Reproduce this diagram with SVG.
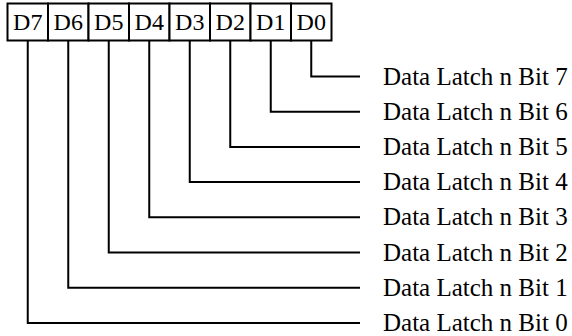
<svg xmlns="http://www.w3.org/2000/svg" width="572" height="336" viewBox="0 0 572 336">
<style>
.cell{fill:#fff;stroke:#000;stroke-width:2}
.ct{font-family:"Liberation Serif",serif;font-size:24px;text-anchor:middle;fill:#000}
.lt{font-family:"Liberation Serif",serif;font-size:25px;fill:#000}
.w{fill:none;stroke:#000;stroke-width:2}
</style>
<rect width="572" height="336" fill="#fff"/>
<g id="reg">
<g id="cD7"><rect class="cell" x="7.5" y="3.5" width="40.5" height="37"/><text class="ct" x="27.75" y="29.5">D7</text></g>
<g id="cD6"><rect class="cell" x="48" y="3.5" width="40.5" height="37"/><text class="ct" x="68.25" y="29.5">D6</text></g>
<g id="cD5"><rect class="cell" x="88.5" y="3.5" width="40.5" height="37"/><text class="ct" x="108.75" y="29.5">D5</text></g>
<g id="cD4"><rect class="cell" x="129" y="3.5" width="40.5" height="37"/><text class="ct" x="149.25" y="29.5">D4</text></g>
<g id="cD3"><rect class="cell" x="169.5" y="3.5" width="40.5" height="37"/><text class="ct" x="189.75" y="29.5">D3</text></g>
<g id="cD2"><rect class="cell" x="210" y="3.5" width="40.5" height="37"/><text class="ct" x="230.25" y="29.5">D2</text></g>
<g id="cD1"><rect class="cell" x="250.5" y="3.5" width="40.5" height="37"/><text class="ct" x="270.75" y="29.5">D1</text></g>
<g id="cD0"><rect class="cell" x="291" y="3.5" width="40.5" height="37"/><text class="ct" x="311.25" y="29.5">D0</text></g>
</g>
<g id="connectors">
<path class="w" d="M311.25 40.5V76.5H360"/>
<path class="w" d="M270.75 40.5V111.7H360"/>
<path class="w" d="M230.25 40.5V146.9H360"/>
<path class="w" d="M189.75 40.5V182.1H360"/>
<path class="w" d="M149.25 40.5V217.3H360"/>
<path class="w" d="M108.75 40.5V252.5H360"/>
<path class="w" d="M68.25 40.5V287.7H360"/>
<path class="w" d="M27.75 40.5V322.9H360"/>
</g>
<g id="b7"><text class="lt" x="383" y="84.5">Data Latch n Bit 7</text></g>
<g id="b6"><text class="lt" x="383" y="119.7">Data Latch n Bit 6</text></g>
<g id="b5"><text class="lt" x="383" y="154.9">Data Latch n Bit 5</text></g>
<g id="b4"><text class="lt" x="383" y="190.1">Data Latch n Bit 4</text></g>
<g id="b3"><text class="lt" x="383" y="225.3">Data Latch n Bit 3</text></g>
<g id="b2"><text class="lt" x="383" y="260.5">Data Latch n Bit 2</text></g>
<g id="b1"><text class="lt" x="383" y="295.7">Data Latch n Bit 1</text></g>
<g id="b0"><text class="lt" x="383" y="330.9">Data Latch n Bit 0</text></g>
</svg>
